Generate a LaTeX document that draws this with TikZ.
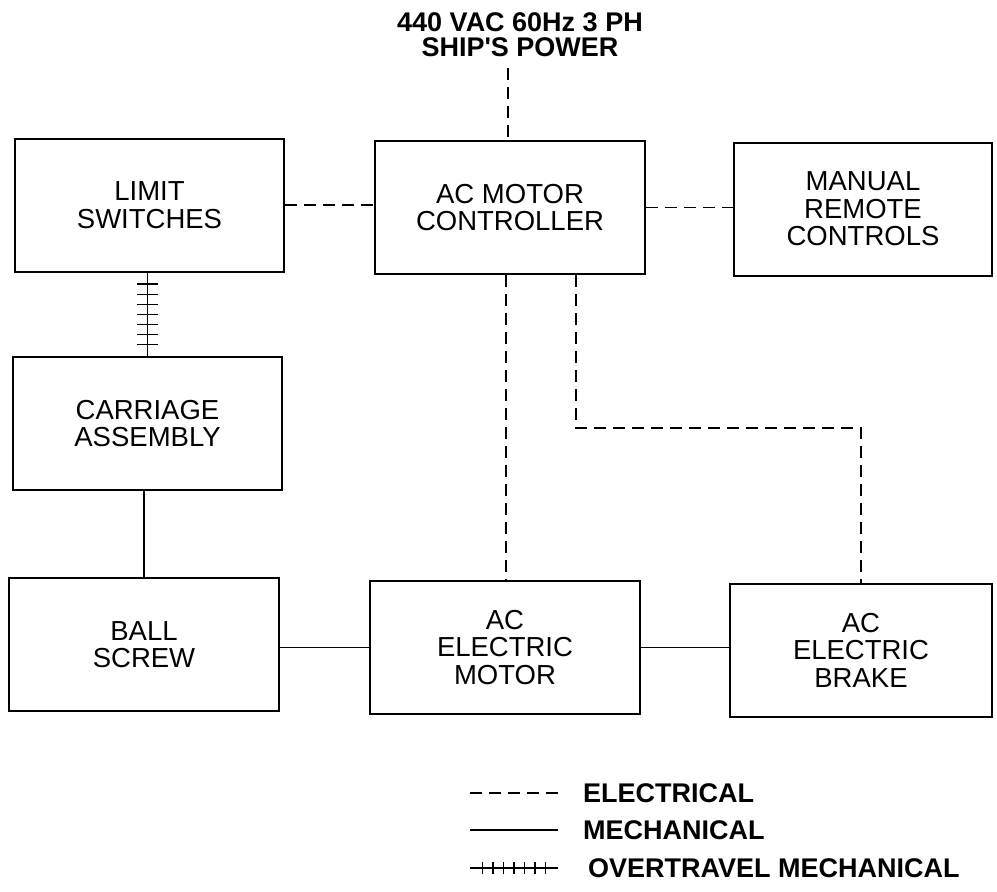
\documentclass[tikz,border=0pt]{standalone}
\usepackage{fontspec}
\setmainfont{Liberation Sans}[Ligatures=TeXOff]
\usetikzlibrary{decorations.markings}
\begin{document}
\begin{tikzpicture}[x=1pt,y=-1pt,
  blk/.style={draw,line width=2pt,minimum width=#1,minimum height=133pt,inner sep=0pt,align=center,font=\fontsize{27.5}{27.5}\selectfont},
  blk/.default=270pt,
  elec/.style={line width=1.4pt,dash pattern=on 12pt off 7pt},
  mech/.style={line width=1.4pt},
  otm/.style={mech,postaction={decorate,decoration={markings,mark=between positions 0.14 and 0.88 step 0.12 with {\draw[mech] (0,-#1)--(0,#1);}}}},
  lbl/.style={inner sep=0pt,align=center,font=\bfseries\fontsize{27}{25}\selectfont}]
\useasboundingbox (0,0) rectangle (997,892);
\node[lbl] (pwr) at (520,35) {440 VAC 60Hz 3 PH\\SHIP'S POWER};
\node[blk=269pt] (lim) at (149.5,205) {LIMIT\\SWITCHES};
\node[blk] (ctl) at (510,207.5) {AC MOTOR\\CONTROLLER};
\node[blk=258pt] (man) at (863,209) {MANUAL\\REMOTE\\CONTROLS};
\node[blk=269pt] (car) at (147.5,423.5) {CARRIAGE\\ASSEMBLY};
\node[blk] (bsc) at (144,644.5) {BALL\\SCREW};
\node[blk] (mot) at (505,647.5) {AC\\ELECTRIC\\MOTOR};
\node[blk=262pt] (brk) at (861,650) {AC\\ELECTRIC\\BRAKE};
\coordinate (feed) at (508,68);
\coordinate (bend) at (576,428);
\draw[elec] (feed) -- (feed |- ctl.north);
\draw[elec] (lim.east) -- (lim.east -| ctl.west);
\draw[elec] (ctl.east) -- (ctl.east -| man.west);
\draw[elec] ([xshift=-4]ctl.south) -- ([xshift=-4]ctl.south |- mot.north);
\draw[elec] (bend |- ctl.south) -- (bend) -| (brk.north);
\draw[otm=10.5pt] (car.north |- lim.south) -- (car.north);
\draw[mech] (bsc.north |- car.south) -- (bsc.north);
\draw[mech] (mot.west -| bsc.east) -- (mot.west);
\draw[mech] (mot.east) -- (mot.east -| brk.west);
\node[lbl,anchor=west] (kel) at (583,793) {ELECTRICAL};
\node[lbl,anchor=west] (kme) at (583,830) {MECHANICAL};
\node[lbl,anchor=west] (kov) at (588,868) {OVERTRAVEL MECHANICAL};
\draw[elec] ([xshift=-113]kel.west) -- ([xshift=-25]kel.west);
\draw[mech] ([xshift=-113]kme.west) -- ([xshift=-25]kme.west);
\draw[otm=6pt] ([xshift=-118]kov.west) -- ([xshift=-30]kov.west);
\end{tikzpicture}
\end{document}
